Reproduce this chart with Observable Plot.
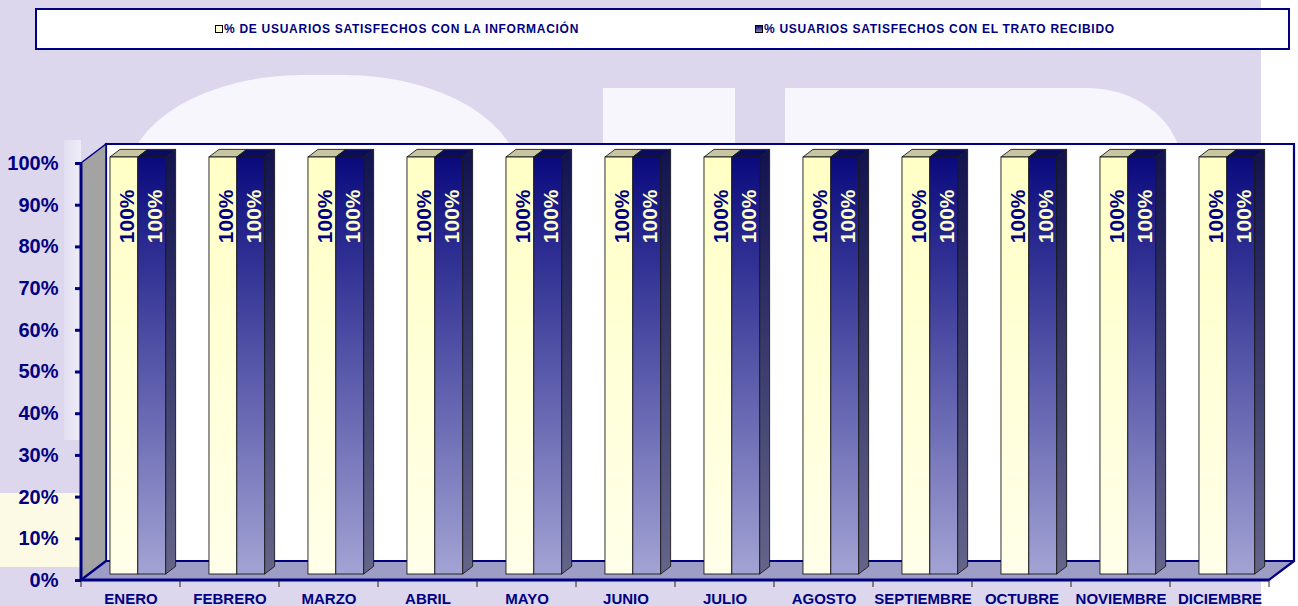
<!DOCTYPE html>
<html>
<head>
<meta charset="utf-8">
<script src="https://cdn.jsdelivr.net/npm/d3@7"></script>
<script src="https://cdn.jsdelivr.net/npm/@observablehq/plot@0.6"></script>
<style>
  html, body { margin:0; padding:0; width:1298px; height:606px; overflow:hidden; background:#ddd7ee; font-family:"Liberation Sans", Arial, sans-serif; }
  #wrap { position:relative; width:1298px; height:606px; }
  .deco { position:absolute; }
  #chart { position:absolute; left:0; top:0; }
  #chart svg { display:block; }
  #legend { position:absolute; left:35px; top:8px; width:1251px; height:38px; background:#fff; border:2px solid #000080; z-index:5; }
  .item { position:absolute; top:12px; font-size:12px; font-weight:bold; color:#000080; white-space:nowrap; line-height:14px; letter-spacing:0.72px; }
  .sw { display:inline-block; width:6px; height:6px; border:1.5px solid #000; margin-right:1px; vertical-align:0px; }
</style>
</head>
<body>
<div id="wrap">
  <!-- background watermark shapes -->
  <div class="deco" style="left:127px;top:75px;width:393px;height:140px;background:#f8f6fd;border-radius:45% 45% 0 0 / 75% 75% 0 0;"></div>
  <div class="deco" style="left:603px;top:88px;width:132px;height:80px;background:#f8f6fd;"></div>
  <div class="deco" style="left:785px;top:88px;width:397px;height:80px;background:#f8f6fd;border-top-right-radius:95px 80px;"></div>
  <div class="deco" style="left:1261px;top:0px;width:37px;height:606px;background:#ffffff;"></div>
  <div class="deco" style="left:64px;top:140px;width:17px;height:300px;background:linear-gradient(90deg,#e2def1,#efedf8);"></div>
  <div class="deco" style="left:0px;top:493px;width:80px;height:74px;background:#fcf9e4;"></div>
  <div id="chart"></div>
  <div id="legend">
    <span class="item" id="leg1" style="left:178px;"><span class="sw" style="background:#ffffd0;"></span></span>
    <span class="item" id="leg2" style="left:718px;"><span class="sw" style="background:linear-gradient(#10107a,#8888aa);"></span></span>
  </div>
</div>
<script>
// ---------------- DATA ----------------
const meses = ["ENERO","FEBRERO","MARZO","ABRIL","MAYO","JUNIO","JULIO","AGOSTO","SEPTIEMBRE","OCTUBRE","NOVIEMBRE","DICIEMBRE"];
const serieInformacion = "% DE USUARIOS SATISFECHOS CON LA INFORMACIÓN";
const serieTrato = "% USUARIOS SATISFECHOS CON EL TRATO RECIBIDO";
const valoresInformacion = [100,100,100,100,100,100,100,100,100,100,100,100];
const valoresTrato = [100,100,100,100,100,100,100,100,100,100,100,100];
const yTicks = [0,10,20,30,40,50,60,70,80,90,100];

// ---------------- STYLE / LAYOUT ----------------
const NAVY = "#000080";
const W = 1298, H = 606;
const WALL_DX = 25, WALL_DY = -19;   // 3D depth of the walls
const BAR_DX = 7.3, BAR_DY = -6;     // bar plane offset into the depth
const BAR_FRAC = 0.281;              // width of one bar relative to category step
const SIDE_DX = 10, SIDE_DY = -7.6;  // bar depth

document.getElementById("leg1").append(serieInformacion);
document.getElementById("leg2").append(serieTrato);

const info = meses.map((mes, i) => ({mes, value: valoresInformacion[i]}));
const trato = meses.map((mes, i) => ({mes, value: valoresTrato[i]}));

function stepOf(x) { return x(meses[1]) - x(meses[0]); }

// gradient definitions
const defsMark = () => {
  const defs = d3.create("svg:defs");
  const grad = (id, stops) => {
    const g = defs.append("linearGradient").attr("id", id).attr("x1", 0).attr("y1", 0).attr("x2", 0).attr("y2", 1);
    stops.forEach(([o, c]) => g.append("stop").attr("offset", o).attr("stop-color", c));
  };
  grad("gInfo", [[0, "#ffffc6"], [1, "#ffffea"]]);
  grad("gTrato", [[0, "#0a0a7e"], [1, "#a3a3d4"]]);
  grad("gSide", [[0, "#121250"], [1, "#65658a"]]);
  return defs.node();
};

// walls and floor
const wallsMark = (index, scales) => {
  const x = scales.x, y = scales.y;
  const step = stepOf(x);
  const x0 = x(meses[0]), x1 = x(meses[meses.length - 1]) + step;
  const yTop = y(100), yBot = y(0);
  const g = d3.create("svg:g");
  const poly = pts => pts.map(p => p.join(",")).join(" ");
  g.append("polygon").attr("points", poly([[x0+WALL_DX, yTop+WALL_DY],[x1+WALL_DX, yTop+WALL_DY],[x1+WALL_DX, yBot+WALL_DY],[x0+WALL_DX, yBot+WALL_DY]]))
    .attr("fill", "#ffffff").attr("stroke", NAVY).attr("stroke-width", 2.2);
  g.append("polygon").attr("points", poly([[x0, yTop],[x0+WALL_DX, yTop+WALL_DY],[x0+WALL_DX, yBot+WALL_DY],[x0, yBot]]))
    .attr("fill", "#a3a3a3").attr("stroke", NAVY).attr("stroke-width", 1.5);
  g.append("polygon").attr("points", poly([[x0, yBot],[x0+WALL_DX, yBot+WALL_DY],[x1+WALL_DX, yBot+WALL_DY],[x1, yBot]]))
    .attr("fill", "#9d9dc6").attr("stroke", NAVY).attr("stroke-width", 2.2).attr("stroke-linejoin", "round");
  g.append("line").attr("x1", x0).attr("x2", x0).attr("y1", yTop).attr("y2", yBot).attr("stroke", NAVY).attr("stroke-width", 3);
  g.append("line").attr("x1", x0).attr("x2", x1).attr("y1", yBot).attr("y2", yBot).attr("stroke", NAVY).attr("stroke-width", 3);
  for (let i = 0; i <= meses.length; i++) {
    const xi = x0 + i * step;
    g.append("line").attr("x1", xi).attr("x2", xi).attr("y1", yBot).attr("y2", yBot + 7).attr("stroke", "#222").attr("stroke-width", 1);
  }
  return g.node();
};

// 3D top and side faces of the bars
const facesMark = (index, scales) => {
  const x = scales.x, y = scales.y;
  const step = stepOf(x);
  const bw = BAR_FRAC * step;
  const g = d3.create("svg:g").attr("stroke", "#1a1a1a").attr("stroke-width", 0.9).attr("stroke-linejoin", "round");
  const poly = pts => pts.map(p => p.join(",")).join(" ");
  meses.forEach((m, i) => {
    const c = x(m) + step / 2 + BAR_DX;
    const xl = c - bw, xm = c, xr = c + bw;
    const ytI = y(valoresInformacion[i]) + BAR_DY;
    const ytT = y(valoresTrato[i]) + BAR_DY;
    const yb = y(0) + BAR_DY;
    g.append("polygon").attr("points", poly([[xr, ytT],[xr+SIDE_DX, ytT+SIDE_DY],[xr+SIDE_DX, yb+SIDE_DY],[xr, yb]])).attr("fill", "url(#gSide)");
    g.append("polygon").attr("points", poly([[xl, ytI],[xm, ytI],[xm+SIDE_DX, ytI+SIDE_DY],[xl+SIDE_DX, ytI+SIDE_DY]])).attr("fill", "#c8c6a0");
    g.append("polygon").attr("points", poly([[xm, ytT],[xr, ytT],[xr+SIDE_DX, ytT+SIDE_DY],[xm+SIDE_DX, ytT+SIDE_DY]])).attr("fill", "#0c0c5e");
  });
  return g.node();
};

const step0 = (W - 81 - 29) / meses.length;
const bw0 = BAR_FRAC * step0;
const insL1 = step0 / 2 + BAR_DX - bw0, insR1 = step0 - insL1 - bw0;
const insL2 = step0 / 2 + BAR_DX, insR2 = step0 - insL2 - bw0;

const chart = Plot.plot({
  width: W,
  height: H,
  marginLeft: 81,
  marginRight: 29,
  marginTop: 163,
  marginBottom: 26,
  x: {type: "band", domain: meses, padding: 0},
  y: {type: "linear", domain: [0, 100]},
  style: {background: "transparent", fontFamily: "'Liberation Sans', Arial, sans-serif", overflow: "visible"},
  marks: [
    defsMark,
    wallsMark,
    Plot.axisY({ticks: yTicks, tickFormat: d => d + "%", tickSize: 6, tickPadding: 17, strokeWidth: 3, fontSize: 20, fontWeight: "bold", color: NAVY, label: null}),
    Plot.axisX({tickSize: 0, tickPadding: 13, fontSize: 15, fontWeight: "bold", color: NAVY, label: null}),
    facesMark,
    Plot.barY(info, {x: "mes", y: "value", insetLeft: insL1, insetRight: insR1, dy: BAR_DY, fill: "url(#gInfo)", stroke: "#1a1a1a", strokeWidth: 0.9}),
    Plot.barY(trato, {x: "mes", y: "value", insetLeft: insL2, insetRight: insR2, dy: BAR_DY, fill: "url(#gTrato)", stroke: "#1a1a1a", strokeWidth: 0.9}),
    Plot.text(info, {x: "mes", y: "value", text: d => d.value + "%", rotate: -90, textAnchor: "end", dx: -4, dy: 26, fill: NAVY, fontSize: 21, fontWeight: "bold"}),
    Plot.text(trato, {x: "mes", y: "value", text: d => d.value + "%", rotate: -90, textAnchor: "end", dx: 24.5, dy: 26, fill: "#ffffcc", fontSize: 21, fontWeight: "bold"})
  ]
});
document.getElementById("chart").append(chart);
</script>
</body>
</html>
